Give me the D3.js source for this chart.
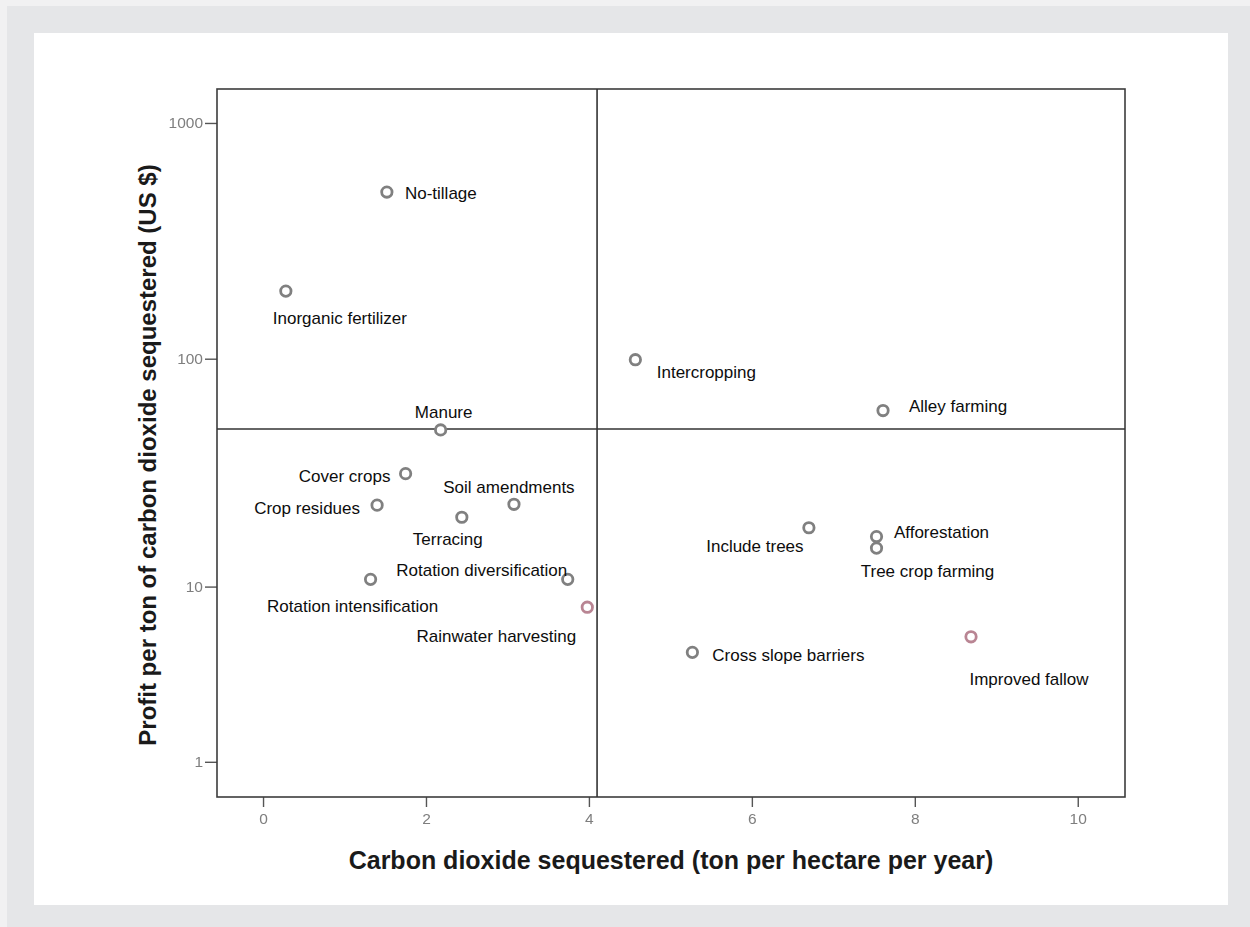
<!DOCTYPE html>
<html>
<head>
<meta charset="utf-8">
<script src="https://cdn.jsdelivr.net/npm/d3@7"></script>
<style>
  html, body { margin: 0; padding: 0; background: #e5e6e8; }
  svg { display: block; }
</style>
</head>
<body>
<svg id="chart" width="1250" height="927"></svg>
<script>
// Land-management practices: carbon sequestration vs. profitability
const practices = [
  "No-tillage", "Inorganic fertilizer", "Intercropping", "Alley farming",
  "Manure", "Cover crops", "Crop residues", "Terracing", "Soil amendments",
  "Rotation intensification", "Rotation diversification", "Rainwater harvesting",
  "Include trees", "Afforestation", "Tree crop farming", "Cross slope barriers",
  "Improved fallow"
];
// CO2 sequestered (t / ha / yr)
const co2Sequestered = [1.52, 0.28, 4.57, 7.61, 2.18, 1.75, 1.40, 2.44, 3.08,
                        1.32, 3.74, 3.98, 6.70, 7.53, 7.53, 5.27, 8.69];
// Profit per ton of CO2 sequestered (US $)
const profitPerTon = [510, 194, 99, 60, 49.5, 32, 23.3, 20.6, 23.5,
                      10.8, 10.8, 8.0, 18.5, 16.9, 15.0, 4.8, 5.75];

const xTicks = [0, 2, 4, 6, 8, 10];
const yTicks = [1, 10, 100, 1000];

// Quadrant dividers
const xDivider = 4.1;
const yDivider = 50;

// Axis extents
const xExtent = [-0.565, 10.58];
const yExtent = [0.42, 1392];

// Label placement (offset of the label centre from its marker, px)
const labelOffsets = {
  "No-tillage": [54, 1],
  "Inorganic fertilizer": [54, 27],
  "Intercropping": [71, 13],
  "Alley farming": [75, -4],
  "Manure": [3, -17],
  "Cover crops": [-61, 3],
  "Crop residues": [-70, 3],
  "Terracing": [-14, 22],
  "Soil amendments": [-5, -17],
  "Rotation intensification": [-18, 27],
  "Rotation diversification": [-86, -9],
  "Rainwater harvesting": [-91, 29],
  "Include trees": [-54, 19],
  "Afforestation": [65, -4],
  "Tree crop farming": [51, 23],
  "Cross slope barriers": [96, 3],
  "Improved fallow": [58, 43]
};
const highlighted = new Set(["Rainwater harvesting", "Improved fallow"]);

const W = 1250, H = 927;
const plot = { left: 217, top: 89, right: 1125, bottom: 797 };

const svg = d3.select("#chart");

// Page backdrop
svg.append("rect").attr("width", W).attr("height", H).attr("fill", "#f1f1f2");
svg.append("rect").attr("x", 7).attr("y", 6).attr("width", W - 7).attr("height", H - 6).attr("fill", "#e5e6e8");
svg.append("rect").attr("x", 34).attr("y", 33).attr("width", 1194).attr("height", 872).attr("fill", "#ffffff");

const defs = svg.append("defs");
defs.append("filter").attr("id", "soft").attr("x", "-20%").attr("y", "-20%").attr("width", "140%").attr("height", "140%")
  .append("feGaussianBlur").attr("stdDeviation", 0.7);
defs.append("filter").attr("id", "softer").attr("x", "-50%").attr("y", "-50%").attr("width", "200%").attr("height", "200%")
  .append("feGaussianBlur").attr("stdDeviation", 0.5);

const x = d3.scaleLinear().domain(xExtent).range([plot.left, plot.right]);
const y = d3.scaleSymlog().constant(1).domain(yExtent).range([plot.bottom, plot.top]);

const font = "'Liberation Sans', Arial, Helvetica, sans-serif";

// Axes
const xAxis = svg.append("g")
  .attr("transform", `translate(0,${plot.bottom})`)
  .call(d3.axisBottom(x).tickValues(xTicks).tickSize(10).tickPadding(6).tickFormat(d3.format("d")));
const yAxis = svg.append("g")
  .attr("transform", `translate(${plot.left},0)`)
  .call(d3.axisLeft(y).tickValues(yTicks).tickSize(12).tickPadding(2).tickFormat(d3.format("d")));

[xAxis, yAxis].forEach(g => {
  g.select(".domain").remove();
  g.selectAll(".tick line").attr("stroke", "#555").attr("stroke-width", 1.4);
  g.selectAll(".tick text")
    .attr("fill", "#7e7e7e")
    .attr("font-family", font)
    .attr("font-size", 15.5)
    .attr("filter", "url(#soft)");
});

// Plot frame
svg.append("rect")
  .attr("x", plot.left).attr("y", plot.top)
  .attr("width", plot.right - plot.left).attr("height", plot.bottom - plot.top)
  .attr("fill", "none").attr("stroke", "#3c3c3c").attr("stroke-width", 1.6);

// Quadrant reference lines
svg.append("line")
  .attr("x1", x(xDivider)).attr("x2", x(xDivider))
  .attr("y1", plot.top).attr("y2", plot.bottom)
  .attr("stroke", "#333").attr("stroke-width", 1.6);
svg.append("line")
  .attr("x1", plot.left).attr("x2", plot.right)
  .attr("y1", y(yDivider)).attr("y2", y(yDivider))
  .attr("stroke", "#333").attr("stroke-width", 1.6);

const points = practices.map((name, i) => ({ name, co2: co2Sequestered[i], profit: profitPerTon[i] }));

// Markers
svg.append("g").selectAll("circle")
  .data(points).join("circle")
  .attr("cx", d => x(d.co2))
  .attr("cy", d => y(d.profit))
  .attr("r", 5.2)
  .attr("fill", "#fff")
  .attr("stroke", d => highlighted.has(d.name) ? "#b98593" : "#808080")
  .attr("stroke-width", 2.8)
  .attr("filter", "url(#softer)");

// Practice labels
svg.append("g").selectAll("text")
  .data(points).join("text")
  .attr("x", d => x(d.co2) + labelOffsets[d.name][0])
  .attr("y", d => y(d.profit) + labelOffsets[d.name][1])
  .attr("text-anchor", "middle")
  .attr("dominant-baseline", "central")
  .attr("font-family", font)
  .attr("font-size", 17)
  .attr("fill", "#0d0d0d")
  .text(d => d.name);

// Axis titles
svg.append("text")
  .attr("x", (plot.left + plot.right) / 2)
  .attr("y", 869)
  .attr("text-anchor", "middle")
  .attr("font-family", font)
  .attr("font-weight", "bold")
  .attr("font-size", 25)
  .attr("fill", "#1a1a1a")
  .text("Carbon dioxide sequestered (ton per hectare per year)");

svg.append("text")
  .attr("transform", `translate(156,455) rotate(-90)`)
  .attr("text-anchor", "middle")
  .attr("font-family", font)
  .attr("font-weight", "bold")
  .attr("font-size", 24)
  .attr("fill", "#1a1a1a")
  .text("Profit per ton of carbon dioxide sequestered (US $)");
</script>
</body>
</html>
